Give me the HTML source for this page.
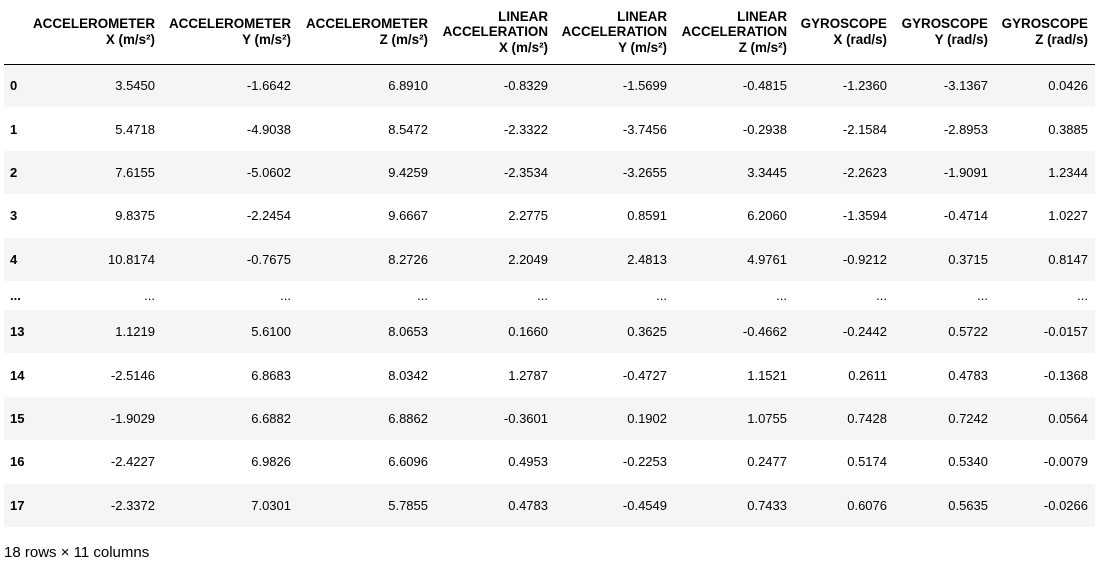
<!DOCTYPE html>
<html><head><meta charset="utf-8">
<style>
html,body{margin:0;padding:0;background:#fff;width:1097px;height:572px;overflow:hidden;font-family:"Liberation Sans",Arial,sans-serif;color:#000;}
*{box-sizing:border-box;}
table{position:absolute;left:4px;top:0;border-collapse:collapse;table-layout:fixed;width:1091px;font-size:13px;}
th{font-weight:bold;font-size:13.4px;text-align:right;vertical-align:middle;padding:0 7px 0 0;line-height:15.5px;height:64px;border-bottom:1px solid #000;white-space:nowrap;}
td{text-align:right;padding:0 7px 0 0;height:43.4px;white-space:nowrap;}
td.idx,th.idx{text-align:left;font-weight:bold;padding:0 0 0 6px;}
tr.g td{background:#f5f5f5;}
tr.dots td{height:29px;}
#cap{position:absolute;left:4px;top:544px;font-size:15px;}
</style></head><body>
<table>
<colgroup id="cols"></colgroup>
<thead><tr id="hdr"></tr></thead>
<tbody id="body"></tbody>
</table>
<div id="cap">18 rows × 11 columns</div>
<script>
const headers=[["",""],["ACCELEROMETER","X (m/s²)"],["ACCELEROMETER","Y (m/s²)"],["ACCELEROMETER","Z (m/s²)"],["LINEAR","ACCELERATION","X (m/s²)"],["LINEAR","ACCELERATION","Y (m/s²)"],["LINEAR","ACCELERATION","Z (m/s²)"],["GYROSCOPE","X (rad/s)"],["GYROSCOPE","Y (rad/s)"],["GYROSCOPE","Z (rad/s)"]];
const colWidths=[21,137,136,137,120,119,120,100,101,100];
const rowIndex=["0","1","2","3","4","...","13","14","15","16","17"];
const rowValues=[
["3.5450","-1.6642","6.8910","-0.8329","-1.5699","-0.4815","-1.2360","-3.1367","0.0426"],
["5.4718","-4.9038","8.5472","-2.3322","-3.7456","-0.2938","-2.1584","-2.8953","0.3885"],
["7.6155","-5.0602","9.4259","-2.3534","-3.2655","3.3445","-2.2623","-1.9091","1.2344"],
["9.8375","-2.2454","9.6667","2.2775","0.8591","6.2060","-1.3594","-0.4714","1.0227"],
["10.8174","-0.7675","8.2726","2.2049","2.4813","4.9761","-0.9212","0.3715","0.8147"],
["...","...","...","...","...","...","...","...","..."],
["1.1219","5.6100","8.0653","0.1660","0.3625","-0.4662","-0.2442","0.5722","-0.0157"],
["-2.5146","6.8683","8.0342","1.2787","-0.4727","1.1521","0.2611","0.4783","-0.1368"],
["-1.9029","6.6882","6.8862","-0.3601","0.1902","1.0755","0.7428","0.7242","0.0564"],
["-2.4227","6.9826","6.6096","0.4953","-0.2253","0.2477","0.5174","0.5340","-0.0079"],
["-2.3372","7.0301","5.7855","0.4783","-0.4549","0.7433","0.6076","0.5635","-0.0266"]];
const cols=document.getElementById('cols');
colWidths.forEach(w=>{const c=document.createElement('col');c.style.width=w+'px';cols.appendChild(c);});
const hdr=document.getElementById('hdr');
headers.forEach((h,i)=>{
  const th=document.createElement('th');
  
  
  if(i===0)th.className='idx';
  th.innerHTML=h.filter(s=>s).join('<br>');
  hdr.appendChild(th);
});
const body=document.getElementById('body');
rowIndex.forEach((r,ri)=>{
  const tr=document.createElement('tr');
  
  
  let cls=[];
  if(ri%2===0)cls.push('g');
  if(r==='...')cls.push('dots');
  tr.className=cls.join(' ');
  const td0=document.createElement('td');
  
  
  td0.className='idx';td0.textContent=r;tr.appendChild(td0);
  rowValues[ri].forEach(v=>{
    const td=document.createElement('td');
    
    
    td.textContent=v;tr.appendChild(td);
  });
  body.appendChild(tr);
});
</script>
</body></html>
